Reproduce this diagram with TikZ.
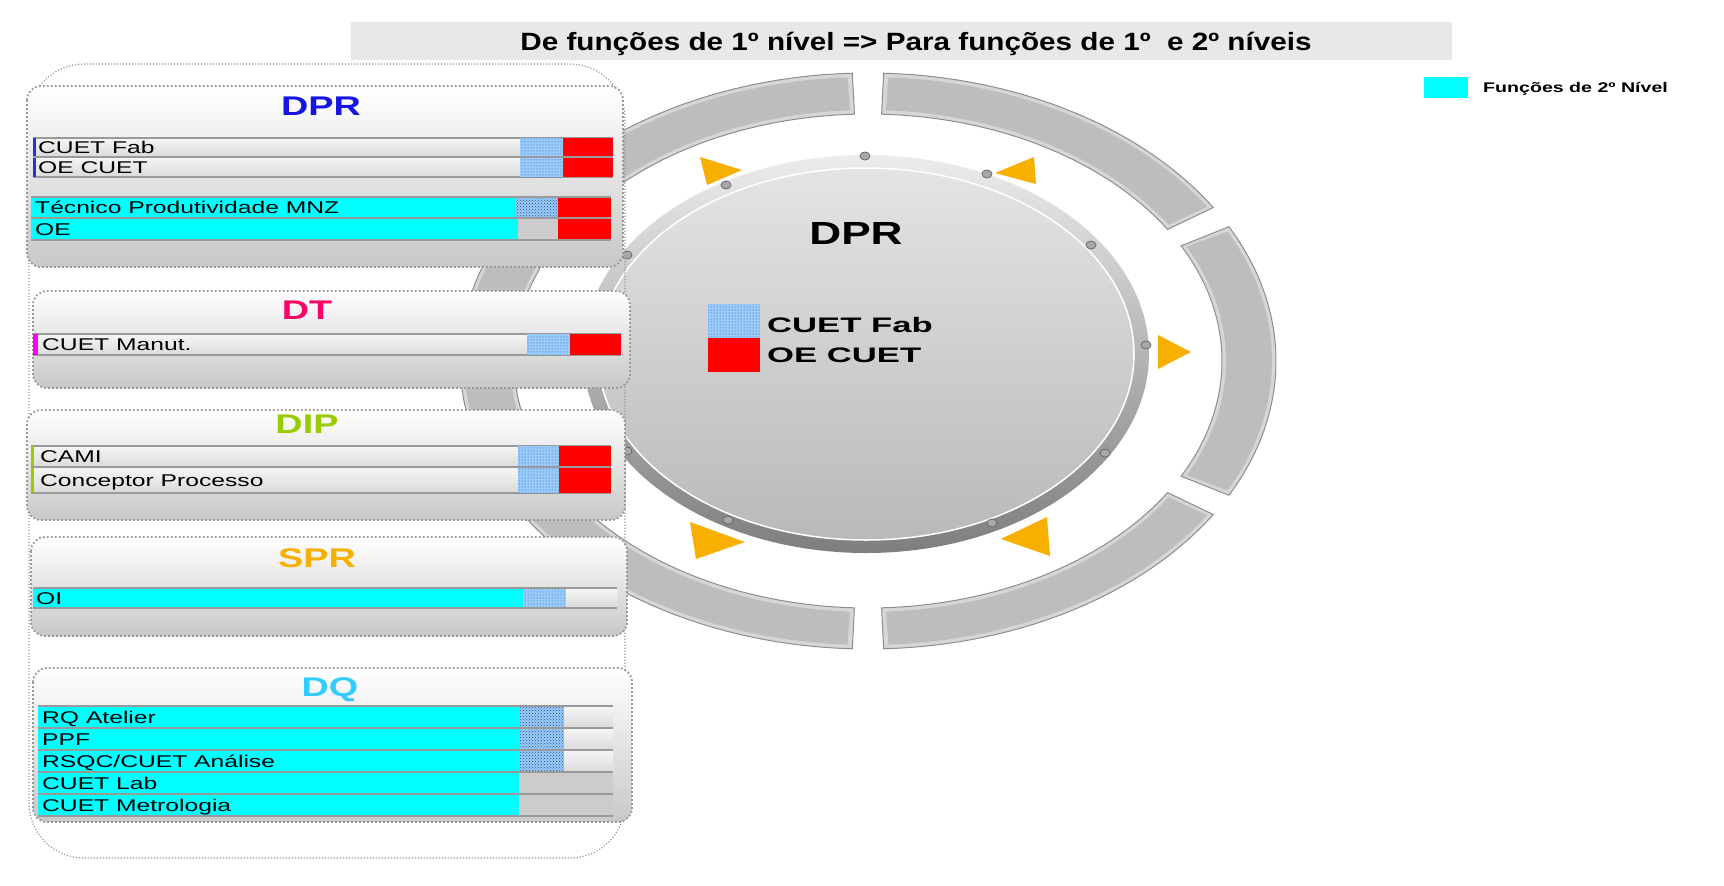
\documentclass[tikz,border=0pt]{standalone}
\usepackage{fontspec}
\setmainfont{Liberation Sans}
\usepackage{graphicx}
\usetikzlibrary{patterns}
\definecolor{titlebg}{HTML}{E8E8E8}
\definecolor{cyanc}{HTML}{00FFFF}
\definecolor{redc}{HTML}{FF0000}
\definecolor{ltblue}{HTML}{99CCFF}
\definecolor{dotblue}{HTML}{2A4A7A}
\definecolor{dprblue}{HTML}{1414E6}
\definecolor{dtpink}{HTML}{FF0066}
\definecolor{dipgreen}{HTML}{99CC00}
\definecolor{sprorange}{HTML}{F8B000}
\definecolor{dqblue}{HTML}{33CCFF}
\definecolor{framegray}{HTML}{999999}
\definecolor{boxbot}{HTML}{C8C8C8}
\definecolor{rowtop}{HTML}{F6F6F6}
\definecolor{rowbot}{HTML}{DADADA}
\definecolor{linegray}{HTML}{9A9A9A}
\definecolor{graycell}{HTML}{CCCCCC}
\definecolor{ringgray}{HTML}{BDBDBD}
\definecolor{ringbevel}{HTML}{D6D6D6}
\definecolor{ringedge}{HTML}{8E8E8E}
\definecolor{rimtop}{HTML}{ECECEC}
\definecolor{rimbot}{HTML}{7E7E7E}
\definecolor{facetop}{HTML}{E4E4E4}
\definecolor{facebot}{HTML}{B9B9B9}
\definecolor{triorange}{HTML}{F7B000}
\definecolor{screwgray}{HTML}{A8A8A8}
\definecolor{screwedge}{HTML}{6A6A6A}
\definecolor{mkblue}{HTML}{3030D0}
\definecolor{mkpink}{HTML}{FF00FF}
\newcommand{\hsc}[2]{\scalebox{#1}[1]{#2}}
\newcommand{\rowbg}[4]{%
  \path[top color=rowtop,bottom color=rowbot] (#1,#2) rectangle (#3,#4);
  \draw[rowline] (#1,#2) -- (#3,#2);
  \draw[rowline] (#1,#4) -- (#3,#4);}
\newcommand{\ltdots}[4]{%
  \fill[ltblue] (#1,#2) rectangle (#3,#4);
  \fill[pattern=dots, pattern color=dotblue] (#1,#2) rectangle (#3,#4);}
\newcommand{\dkdots}[4]{%
  \fill[ltblue] (#1,#2) rectangle (#3,#4);
  \fill[pattern=crosshatch dots, pattern color=dotblue] (#1,#2) rectangle (#3,#4);}
\newcommand{\cell}[5]{\fill[#5] (#1,#2) rectangle (#3,#4);}
\tikzset{
  rowtxt/.style={anchor=base west, inner sep=0pt, font=\fontsize{17}{20}\selectfont},
  boxtitle/.style={anchor=base, inner sep=0pt, font=\fontsize{27}{30}\selectfont\bfseries},
  boxframe/.style={draw=framegray, line width=1.8pt, dash pattern=on 1.8pt off 2.2pt,
    rounded corners=14pt, top color=white, bottom color=boxbot},
  segouter/.style={fill=ringbevel, draw=ringedge, line width=1pt},
  seginner/.style={fill=ringgray},
  tri/.style={fill=triorange},
  screw/.style={fill=screwgray, draw=screwedge, line width=0.8pt},
  rowline/.style={draw=linegray, line width=1.5pt},
}
\begin{document}
\begin{tikzpicture}[x=1pt,y=-1pt]
\useasboundingbox (0,0) rectangle (1724,886);
\fill[white] (0,0) rectangle (1724,886);
% outer ring segments
\begin{scope}[shift={(868,361)}]
\foreach \s in {-30,30,90,150,210,270}{
  \pgfmathsetmacro\sa{\s+2.2}
  \pgfmathsetmacro\sb{\s+60-2.2}
  \pgfmathsetmacro\ta{\s+2.9}
  \pgfmathsetmacro\tb{\s+60-2.9}
  \path[segouter] (\sa:408 and 288) arc[start angle=\sa, end angle=\sb, x radius=408, y radius=288]
    -- (\sb:354 and 247) arc[start angle=\sb, end angle=\sa, x radius=354, y radius=247] -- cycle;
  \path[seginner] (\ta:404 and 284) arc[start angle=\ta, end angle=\tb, x radius=404, y radius=284]
    -- (\tb:358 and 251) arc[start angle=\tb, end angle=\ta, x radius=358, y radius=251] -- cycle;
}
\end{scope}
% triangles
\fill[tri] (700,157) -- (742,170) -- (707,185) -- cycle;
\fill[tri] (995,173) -- (1034,157) -- (1036,184) -- cycle;
\fill[tri] (1158,335) -- (1191,352) -- (1158,369) -- cycle;
\fill[tri] (1001,539) -- (1047,517) -- (1050,556) -- cycle;
\fill[tri] (690,522) -- (745,542) -- (696,559) -- cycle;
% disc
\begin{scope}[shift={(866,354)}]
\path[top color=rimtop, bottom color=rimbot] (0,0) ellipse [x radius=283, y radius=199];
\path[top color=facetop, bottom color=facebot, draw=white, line width=1.5pt] (0,0) ellipse [x radius=268, y radius=186];
\end{scope}
\foreach \px/\py in {865/156,726/185,987/174,1091/245,1146/345,1105/453,992/523,728/520,627/451,627/255}{
  \path[screw] (\px,\py) ellipse [x radius=5, y radius=4];
}
\node[anchor=base, inner sep=0pt, font=\fontsize{32}{36}\selectfont\bfseries] (dprc) at (856,244) {\hsc{1.38}{DPR}};
\ltdots{708}{304}{760}{338}
\fill[redc] (708,338) rectangle (760,372);
\node[anchor=base west, inner sep=0pt, font=\fontsize{21}{24}\selectfont\bfseries] (lgfab) at (767,332) {\hsc{1.65}{CUET Fab}};
\node[anchor=base west, inner sep=0pt, font=\fontsize{21}{24}\selectfont\bfseries] (lgoe) at (767,362) {\hsc{1.65}{OE CUET}};
% outer dotted container
\draw[draw=framegray, line width=1.2pt, dash pattern=on 1.2pt off 1.8pt, rounded corners=55pt] (29,64) rectangle (625,858);
% DPR box
\path[boxframe] (27,86) rectangle (623,267);
\node[boxtitle, text=dprblue] (tdpr) at (321,115) {\hsc{1.4}{DPR}};
\rowbg{33}{138}{613}{157}
\rowbg{33}{157}{613}{177}
\ltdots{520}{138}{563}{157}
\ltdots{520}{157}{563}{177}
\cell{563}{138}{613}{157}{redc}
\cell{563}{157}{613}{177}{redc}
\fill[mkblue] (33,138) rectangle (35.5,177);
\draw[rowline] (33,157) -- (613,157);
\node[rowtxt] (r1) at (38,153.5) {\hsc{1.45}{CUET Fab}};
\node[rowtxt] (r2) at (38,173) {\hsc{1.45}{OE CUET}};
\cell{31}{197}{515}{218}{cyanc}
\dkdots{515}{197}{558}{218}
\cell{558}{197}{611}{218}{redc}
\cell{31}{218}{518}{240}{cyanc}
\cell{518}{218}{558}{240}{graycell}
\cell{558}{218}{611}{240}{redc}
\draw[rowline] (31,197) -- (611,197);
\draw[rowline] (31,218) -- (611,218);
\draw[rowline] (31,240) -- (611,240);
\node[rowtxt] (r3) at (35,213.5) {\hsc{1.45}{Técnico Produtividade MNZ}};
\node[rowtxt] (r4) at (35,235) {\hsc{1.45}{OE}};
% DT box
\path[boxframe] (33,291) rectangle (630,388);
\node[boxtitle, text=dtpink] (tdt) at (307,319) {\hsc{1.4}{DT}};
\rowbg{33}{334}{621}{355}
\ltdots{527}{334}{570}{355}
\cell{570}{334}{621}{355}{redc}
\fill[mkpink] (33,334) rectangle (38,355);
\node[rowtxt] (r5) at (42,350.5) {\hsc{1.45}{CUET Manut.}};
% DIP box
\path[boxframe] (27,410) rectangle (625,520);
\node[boxtitle, text=dipgreen] (tdip) at (307,433) {\hsc{1.4}{DIP}};
\rowbg{31}{446}{611}{467}
\rowbg{31}{467}{611}{493}
\ltdots{518}{446}{559}{467}
\ltdots{518}{467}{559}{493}
\cell{559}{446}{611}{467}{redc}
\cell{559}{467}{611}{493}{redc}
\fill[dipgreen] (31,446) rectangle (34,493);
\draw[rowline] (31,467) -- (611,467);
\node[rowtxt] (r6) at (40,462.5) {\hsc{1.45}{CAMI}};
\node[rowtxt] (r7) at (40,486) {\hsc{1.45}{Conceptor Processo}};
% SPR box
\path[boxframe] (31,537) rectangle (627,636);
\node[boxtitle, text=sprorange] (tspr) at (317,567) {\hsc{1.4}{SPR}};
\rowbg{33}{588}{617}{608}
\cell{33}{588}{523}{608}{cyanc}
\ltdots{523}{588}{566}{608}
\draw[rowline] (33,588) -- (617,588);
\draw[rowline] (33,608) -- (617,608);
\node[rowtxt] (r8) at (36,604) {\hsc{1.45}{OI}};
% DQ box
\path[boxframe] (33,668) rectangle (632,822);
\node[boxtitle, text=dqblue] (tdq) at (330,696) {\hsc{1.4}{DQ}};
\rowbg{38}{706}{613}{728}
\rowbg{38}{728}{613}{750}
\rowbg{38}{750}{613}{772}
\cell{38}{706}{519}{772}{cyanc}
\dkdots{519}{706}{564}{772}
\cell{38}{772}{519}{816}{cyanc}
\cell{519}{772}{613}{816}{graycell}
\foreach \yy in {706,728,750,772,794,816}{\draw[rowline] (38,\yy) -- (613,\yy);}
\node[rowtxt] (r9) at (42,723) {\hsc{1.45}{RQ Atelier}};
\node[rowtxt] (r10) at (42,745) {\hsc{1.45}{PPF}};
\node[rowtxt] (r11) at (42,767) {\hsc{1.45}{RSQC/CUET Análise}};
\node[rowtxt] (r12) at (42,789) {\hsc{1.45}{CUET Lab}};
\node[rowtxt] (r13) at (42,811) {\hsc{1.45}{CUET Metrologia}};
% title bar
\fill[titlebg] (351,22) rectangle (1452,60);
\node[anchor=base, inner sep=0pt, font=\fontsize{25}{28}\selectfont\bfseries] (title) at (916,50) {\hsc{1.187}{De funções de 1º nível => Para funções de 1º\ \ e 2º níveis}};
% legend
\fill[cyanc] (1424,77) rectangle (1468,98);
\node[anchor=base west, inner sep=0pt, font=\fontsize{14}{16}\selectfont\bfseries] (leg) at (1483,92) {\hsc{1.4}{Funções de 2º Nível}};
\end{tikzpicture}
\end{document}
